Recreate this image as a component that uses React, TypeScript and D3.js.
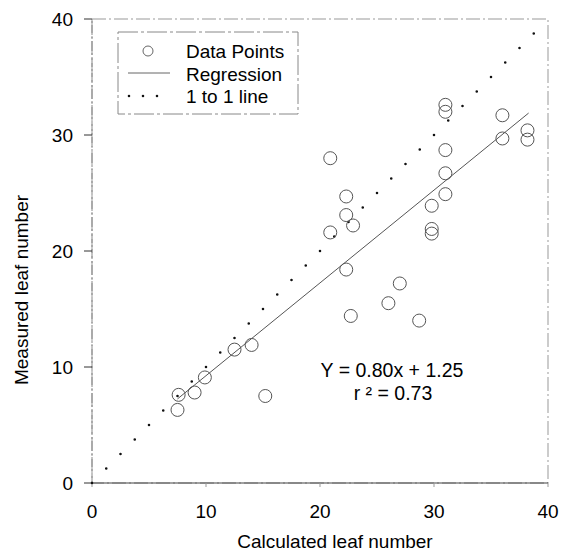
import React, {useRef, useEffect} from 'react'
import * as d3 from 'd3'

// leaf number: calculated vs measured
const calculated = [7.6, 7.5, 9.0, 9.9, 12.5, 14.0, 15.2, 20.9, 20.9, 22.3, 22.3, 22.9, 22.3, 22.7, 26.0, 27.0, 28.7, 29.8, 29.8, 29.8, 31.0, 31.0, 31.0, 31.0, 31.0, 36.0, 36.0, 38.2, 38.2]
const measured = [7.6, 6.3, 7.8, 9.1, 11.5, 11.9, 7.5, 28.0, 21.6, 24.7, 23.1, 22.2, 18.4, 14.4, 15.5, 17.2, 14.0, 23.9, 21.9, 21.5, 32.6, 32.0, 28.7, 26.7, 24.9, 31.7, 29.7, 30.4, 29.6]
const ticks = [0, 10, 20, 30, 40]
const slope = 0.80
const intercept = 1.25
const regRange = [7.5, 38.3]
const legendLabels = ['Data Points', 'Regression', '1 to 1 line']

const font = 'Arial, "Liberation Sans", sans-serif'

export default function App() {

const svgRef = useRef(null)

useEffect(() => {
    const svg = d3.select(svgRef.current)
    svg.selectAll('*').remove()

    const x = d3.scaleLinear().domain([0, 40]).range([92, 548])
    const y = d3.scaleLinear().domain([0, 40]).range([483, 19])

    // frame
    svg.append('rect')
        .attr('x', x(0)).attr('y', y(40))
        .attr('width', x(40) - x(0)).attr('height', y(0) - y(40))
        .attr('fill', 'none').attr('stroke', '#999').attr('stroke-width', 1)
        .attr('stroke-dasharray', '14 3 2 3')
    svg.append('line')
        .attr('x1', x(0)).attr('x2', x(0)).attr('y1', y(0)).attr('y2', y(40))
        .attr('stroke', '#888').attr('stroke-dasharray', '10 2 2 2')
    svg.append('line')
        .attr('x1', x(0)).attr('x2', x(40)).attr('y1', y(0)).attr('y2', y(0))
        .attr('stroke', '#444').attr('stroke-width', 1.2)

    // ticks + labels
    ticks.forEach(t => {
        svg.append('line')
            .attr('x1', x(0) - 8).attr('x2', x(0)).attr('y1', y(t)).attr('y2', y(t))
            .attr('stroke', '#333')
        svg.append('text')
            .attr('x', 73).attr('y', y(t)).attr('dy', '0.36em')
            .attr('text-anchor', 'end')
            .style('font', `19px ${font}`)
            .text(t)
        svg.append('line')
            .attr('x1', x(t)).attr('x2', x(t)).attr('y1', y(0)).attr('y2', y(0) + 4)
            .attr('stroke', '#999')
        svg.append('text')
            .attr('x', x(t)).attr('y', 518)
            .attr('text-anchor', 'middle')
            .style('font', `19px ${font}`)
            .text(t)
    })

    // axis titles
    svg.append('text')
        .attr('x', 335).attr('y', 548)
        .attr('text-anchor', 'middle')
        .style('font', `19px ${font}`)
        .text('Calculated leaf number')
    svg.append('text')
        .attr('transform', 'translate(28,290) rotate(-90)')
        .attr('text-anchor', 'middle')
        .style('font', `19px ${font}`)
        .text('Measured leaf number')

    // 1 to 1 line (dotted)
    const len = Math.hypot(x(40) - x(0), y(40) - y(0))
    svg.append('line')
        .attr('x1', x(0)).attr('y1', y(0)).attr('x2', x(38.8)).attr('y2', y(38.8))
        .attr('stroke', '#111').attr('stroke-width', 2.6)
        .attr('stroke-linecap', 'round')
        .attr('stroke-dasharray', `0 ${len / 32}`)

    // regression
    const line = d3.line().x(d => x(d)).y(d => y(slope * d + intercept))
    svg.append('path')
        .attr('d', line(regRange))
        .attr('fill', 'none').attr('stroke', '#555').attr('stroke-width', 1)

    // points
    svg.selectAll('circle.pt')
        .data(calculated)
        .enter()
        .append('circle')
        .attr('class', 'pt')
        .attr('cx', d => x(d))
        .attr('cy', (d, i) => y(measured[i]))
        .attr('r', 6.5)
        .attr('fill', 'none').attr('stroke', '#555').attr('stroke-width', 1)

    // equation
    svg.append('text')
        .attr('x', 392).attr('y', 377)
        .attr('text-anchor', 'middle')
        .style('font', `19.5px ${font}`)
        .text(`Y = ${slope.toFixed(2)}x + ${intercept.toFixed(2)}`)
    svg.append('text')
        .attr('x', 393).attr('y', 400)
        .attr('text-anchor', 'middle')
        .style('font', `19.5px ${font}`)
        .text('r \u00b2 = 0.73')

    // legend
    const lg = svg.append('g')
    lg.append('rect')
        .attr('x', 118).attr('y', 32).attr('width', 180).attr('height', 82)
        .attr('fill', 'white').attr('stroke', '#888').attr('stroke-dasharray', '20 3 3 3')
    lg.append('circle')
        .attr('cx', 148).attr('cy', 51).attr('r', 5)
        .attr('fill', 'none').attr('stroke', '#666')
    lg.append('line')
        .attr('x1', 128).attr('x2', 170).attr('y1', 73).attr('y2', 73)
        .attr('stroke', '#666')
    lg.append('line')
        .attr('x1', 129).attr('x2', 171).attr('y1', 96).attr('y2', 96)
        .attr('stroke', '#111').attr('stroke-width', 2.6)
        .attr('stroke-linecap', 'round')
        .attr('stroke-dasharray', '0 14')
    legendLabels.forEach((l, i) => {
        lg.append('text')
            .attr('x', 186).attr('y', 58 + i * 22.5)
            .style('font', `19px ${font}`)
            .text(l)
    })
}, [])

    return (
    <svg ref={svgRef} width={562} height={559}
        style={{position: 'absolute', left: 0, top: 0, background: 'white'}}></svg>
  )}
